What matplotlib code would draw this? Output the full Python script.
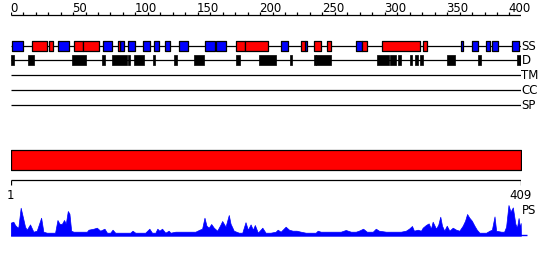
import matplotlib
matplotlib.use("Agg")
import matplotlib.pyplot as plt

# ---------- data ----------
SEQ_LEN = 409

# secondary structure (SS) elements: (start, end) in residues
ss_blue = [(1, 10), (38, 47), (74, 81), (88, 91), (94, 100), (106, 112), (115, 119),
           (124, 128), (135, 142), (156, 164), (165, 173), (217, 222), (236, 238),
           (277, 282), (361, 363), (370, 375), (381, 384), (386, 391), (402, 408)]
ss_red = [(17, 29), (31, 34), (51, 58), (58, 71), (86, 88), (181, 188), (188, 206),
          (233, 236), (243, 249), (254, 257), (282, 286), (298, 328), (331, 334)]

# disorder (D) segments
dis_segs = [(0, 3), (14, 19), (49, 60), (73, 76), (81, 93), (94, 96), (99, 107),
            (114, 116), (131, 133), (147, 155), (181, 184), (199, 213), (224, 225.5),
            (243, 244.5), (245, 257), (294, 303), (304, 309), (311, 313), (320, 321.5),
            (324, 327), (328, 331), (350, 356), (375, 377.5), (406, 409)]

# PS profile (residue, score)
ps_pos = [0, 2.1, 3.5, 4.8, 6.1, 8.0, 10.1, 11.5, 12.9, 15.5, 18.2, 20.9, 24.4, 26.2,
          28.9, 31.6, 35.6, 37.5, 39.1, 41.0, 42.8, 44.2, 45.8, 47.1, 48.5, 50.3, 55.7,
          61.1, 62.4, 66.4, 69.1, 71.8, 75.2, 77.2, 79.8, 81.7, 83.8, 87.9, 91.9, 95.9,
          97.7, 99.9, 103.9, 107.9, 111.2, 113.3, 116.0, 117.6, 119.2, 121.4, 124.0,
          126.7, 128.1, 132.1, 136.1, 140.1, 144.1, 148.1, 151.4, 153.5, 155.4, 157.0,
          158.8, 160.8, 162.9, 165.6, 168.2, 169.6, 172.3, 174.9, 176.3, 178.9, 180.9,
          183.0, 185.7, 188.3, 190.2, 192.4, 194.2, 195.8, 198.2, 201.8, 204.4, 208.4,
          212.5, 214.1, 216.5, 220.5, 223.2, 226.1, 229.3, 232.6, 236.6, 240.6, 244.6,
          246.2, 248.6, 252.7, 256.7, 260.7, 264.7, 268.7, 272.8, 276.8, 279.2, 282.6,
          285.6, 290.4, 292.8, 295.3, 300.9, 304.9, 308.9, 312.9, 316.9, 319.4, 321.8,
          323.4, 326.4, 329.0, 330.4, 333.0, 335.2, 337.0, 338.4, 341.1, 342.9, 344.5,
          345.9, 347.7, 349.7, 351.8, 354.5, 357.2, 359.8, 362.5, 364.4, 366.0, 367.8,
          369.8, 371.9, 373.8, 375.9, 381.3, 384.0, 385.9, 388.0, 389.3, 393.3, 395.7,
          397.3, 399.2, 400.8, 402.7, 404.7, 406.0, 407.3, 408.4, 409, 409.2]
ps_val = [13, 14, 10.7, 9, 8, 28, 16.7, 9, 6, 11.3, 4, 5, 18, 4,
          3, 3, 3, 15.7, 12, 11.7, 15.7, 12, 24.7, 22, 5, 4, 4,
          4, 6, 7, 8, 5, 7, 3, 3, 6, 3, 3, 3, 3,
          5, 3, 3, 3, 7, 3, 3, 7, 5, 7, 3,
          5, 3, 4, 4, 4, 4, 4, 6, 7, 18, 10,
          8, 11.7, 8, 5, 11, 14.7, 9, 20.7, 12, 5, 4,
          3, 3, 13.5, 6, 11.3, 6, 10.7, 3, 8, 3, 3,
          4, 6, 4, 9, 6, 5, 5, 4, 3, 3, 3,
          5, 4, 4, 4, 4, 4, 5.7, 4, 4, 5, 7,
          4, 4, 7, 5, 4, 4, 4, 4, 5, 7, 9.7,
          5, 6, 5, 8, 10.7, 12.3, 7, 14, 7, 11, 19,
          10, 5, 10, 5, 8, 6, 5, 10, 15, 21.7, 18,
          15, 10, 6, 3, 3, 5, 6, 19.3, 5, 4, 4,
          9, 30.7, 24, 28.3, 12, 8, 17.7, 8, 12.7, 0]

top_ticks = list(range(0, SEQ_LEN + 1, 10))
top_labels = list(range(0, SEQ_LEN + 1, 50))
track_names = ["SS", "D", "TM", "CC", "SP"]

# ---------- layout (pixels, 550x260 canvas) ----------
W, H = 550, 260
X0, X1 = 10.7, 520.7
track_y = [45.7, 60.3, 75.3, 90.0, 105.3]
BOX_H = 10
RULER_Y = 15
BAR_TOP, BAR_BOT = 150, 170.3
BOT_RULER_Y = 180.3
PS_BASE = 235.7

BLUE = "#0000ff"
RED = "#ff0000"
LW = 0.9
FS = 8.5

fig = plt.figure(figsize=(W / 100, H / 100), dpi=100)
ax = fig.add_axes([X0 / W, 0, (X1 - X0) / W, 1])
ax.set_xlim(0, SEQ_LEN)
ax.set_ylim(H, 0)
ax.axis("off")

# top ruler
ax.hlines(RULER_Y, 0, SEQ_LEN, color="black", lw=LW)
ax.vlines(top_ticks, RULER_Y - 3, RULER_Y, color="black", lw=LW)
for t in top_labels:
    ax.text(t - 0.5, RULER_Y - 6.5, str(t), ha="left", va="center", fontsize=FS)

# track lines
for y, name in zip(track_y, track_names):
    ax.hlines(y, 0, SEQ_LEN, color="black", lw=LW, zorder=1)
    ax.text(SEQ_LEN + 0.6, y + 0.5, name, ha="left", va="center", fontsize=FS)

# SS boxes
ss_y = track_y[0]
ax.broken_barh([(a, b - a) for a, b in ss_blue], (ss_y - BOX_H / 2, BOX_H),
               facecolors=BLUE, edgecolors="black", linewidth=LW, zorder=2)
ax.broken_barh([(a, b - a) for a, b in ss_red], (ss_y - BOX_H / 2, BOX_H),
               facecolors=RED, edgecolors="black", linewidth=LW, zorder=2)

# disorder boxes
d_y = track_y[1]
ax.broken_barh([(a, b - a) for a, b in dis_segs], (d_y - BOX_H / 2, BOX_H),
               facecolors="black", edgecolors="black", linewidth=0.5, zorder=2)

# full-length bar
ax.broken_barh([(0, SEQ_LEN)], (BAR_TOP, BAR_BOT - BAR_TOP),
               facecolors=RED, edgecolors="black", linewidth=LW)

# bottom ruler
ax.hlines(BOT_RULER_Y, 0, SEQ_LEN, color="black", lw=LW)
ax.vlines([0, SEQ_LEN], BOT_RULER_Y, BOT_RULER_Y + 4.5, color="black", lw=LW)
ax.text(0, BOT_RULER_Y + 15.5, "1", ha="center", va="center", fontsize=FS)
ax.text(SEQ_LEN, BOT_RULER_Y + 15.5, str(SEQ_LEN), ha="center", va="center", fontsize=FS)
ax.text(SEQ_LEN + 1.0, 211, "PS", ha="left", va="center", fontsize=FS)

# PS profile
PS_H = 35
ps_ax = fig.add_axes([X0 / W, (H - PS_BASE) / H, (X1 - X0) / W, PS_H / H])
ps_ax.set_xlim(0, SEQ_LEN)
ps_ax.set_ylim(0, PS_H)
ps_ax.axis("off")
ps_ax.fill_between(ps_pos, 0, ps_val, color=BLUE, lw=0.5, edgecolor=BLUE)
ps_ax.hlines(0.3, 0, SEQ_LEN + 5, color=BLUE, lw=1.0, clip_on=False)

fig.savefig("out.png", dpi=100)
